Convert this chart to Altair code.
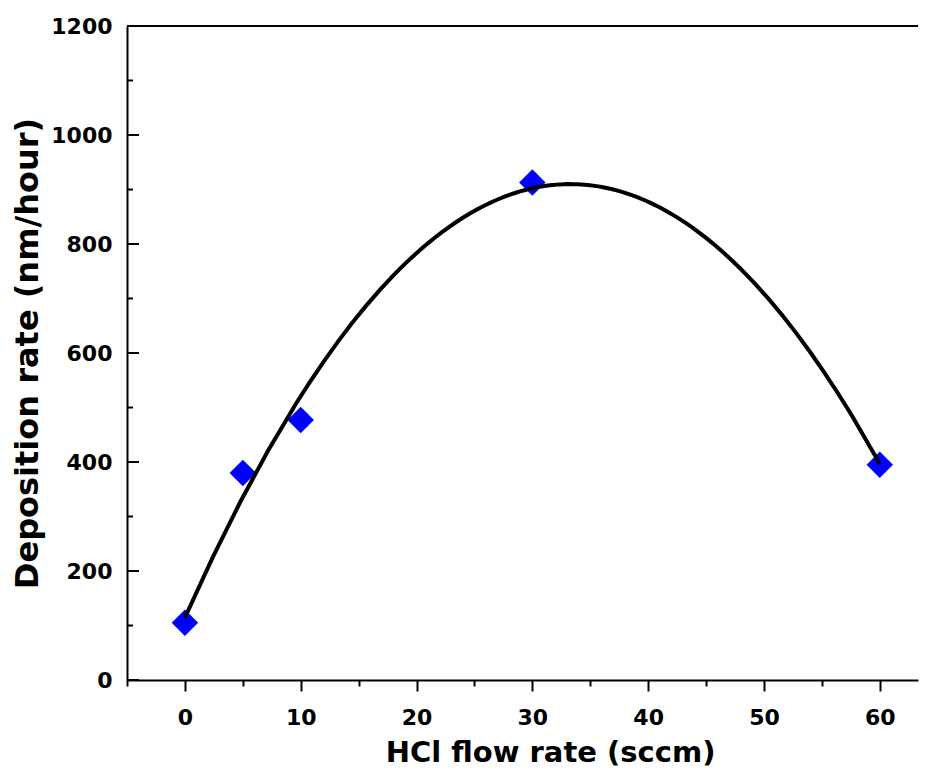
import altair as alt
import pandas as pd

# Data
hcl_flow = [0, 5, 10, 30, 60]
deposition = [105, 380, 477, 913, 395]

# Axis tick positions
x_major = [0, 10, 20, 30, 40, 50, 60]
x_minor = [-5, 5, 15, 25, 35, 45, 55]
y_major = [0, 200, 400, 600, 800, 1000, 1200]
y_minor = [100, 300, 500, 700, 900, 1100]
y_top = [1200]

df = pd.DataFrame({"x": hcl_flow, "y": deposition})
df_ymaj = pd.DataFrame({"v": y_major})
df_ymin = pd.DataFrame({"v": y_minor})
df_top = pd.DataFrame({"v": y_top})

W = 791
H = 654
FONT = "DejaVu Sans"

xscale = alt.Scale(domain=[-5, 63.3], nice=False, zero=False)
yscale = alt.Scale(domain=[0, 1200], nice=False)

base = alt.Chart(df)

common = dict(domainColor="black", tickColor="black", labelColor="black",
              titleColor="black", grid=False)

points = base.mark_point(shape="diamond", filled=True, size=700,
                         color="#0000FF", opacity=1).encode(
    x=alt.X("x:Q", scale=xscale,
            axis=alt.Axis(orient="bottom", values=x_major, tickSize=11, tickWidth=2,
                          domainWidth=2, labelFont=FONT, labelFontSize=22,
                          labelFontWeight="bold", labelPadding=16,
                          title="HCl flow rate (sccm)", titleFont=FONT,
                          titleFontSize=29, titleFontWeight="bold",
                          titlePadding=10, titleX=423, **common)),
    y=alt.Y("y:Q", scale=yscale,
            axis=alt.Axis(orient="left", values=y_major, format="d", ticks=False,
                          tickSize=0, domainWidth=2, labelFont=FONT,
                          labelFontSize=22, labelFontWeight="bold", labelPadding=15,
                          title="Deposition rate (nm/hour)", titleFont=FONT,
                          titleFontSize=32, titleFontWeight="bold",
                          titlePadding=6, **common)),
)

fit = base.transform_regression("x", "y", method="poly", order=2).mark_line(
    color="black", strokeWidth=4).encode(
    x=alt.X("x:Q", scale=xscale, axis=None),
    y=alt.Y("y:Q", scale=yscale, axis=None),
)

x_minor_ticks = base.mark_point(opacity=0).encode(
    x=alt.X("x:Q", scale=xscale, title=None,
            axis=alt.Axis(orient="bottom", values=x_minor, tickSize=6, tickWidth=2,
                          domain=False, labels=False, **common)),
    y=alt.Y("y:Q", scale=yscale, axis=None),
)

y_major_ticks = alt.Chart(df_ymaj).mark_rule(color="black", strokeWidth=2).encode(
    y=alt.Y("v:Q", scale=yscale, axis=None),
    x=alt.value(0), x2=alt.value(12),
)

y_minor_ticks = alt.Chart(df_ymin).mark_rule(color="black", strokeWidth=2).encode(
    y=alt.Y("v:Q", scale=yscale, axis=None),
    x=alt.value(0), x2=alt.value(6),
)

top_border = alt.Chart(df_top).mark_rule(color="black", strokeWidth=2).encode(
    y=alt.Y("v:Q", scale=yscale, axis=None),
)

chart = alt.layer(
    points, fit, x_minor_ticks, y_major_ticks, y_minor_ticks, top_border
).resolve_axis(
    x="independent", y="independent"
).properties(
    width=W, height=H,
    padding={"left": 3, "top": 7, "right": 0, "bottom": 0},
    background="white",
).configure_view(stroke=None)

chart.save("out.html", embed_options={"renderer": "svg", "actions": False})
